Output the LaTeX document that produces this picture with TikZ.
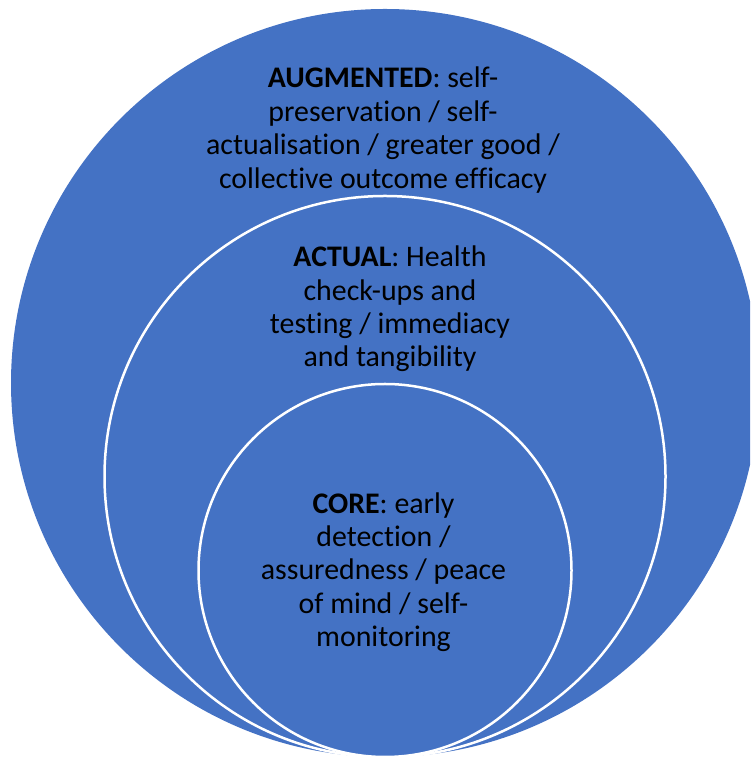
\documentclass[tikz,border=0pt]{standalone}
\usepackage{fontspec}
\setmainfont[Ligatures={NoCommon}]{Carlito}
\definecolor{ringblue}{HTML}{4472C4}
\tikzset{
  ring/.style={fill=ringblue,draw=white,line width=0.05cm},
  ringtext/.style={align=center,text=black,inner sep=0pt,
    font=\fontsize{17}{19}\selectfont}
}
\begin{document}
\begin{tikzpicture}
	   \useasboundingbox (0,0) rectangle (15,15.16);
	   \clip (0,0) rectangle (15,15.16);
	   % three rings, all touching at the bottom
	   \fill [fill=ringblue] (7.70,7.50) circle (7.48);
	   \draw [ring] (7.70,5.63) circle (5.61);
	   \draw [ring] (7.70,3.75) circle (3.73);
	   \node [ringtext] (augmented) at (7.66,12.56) {\textbf{AUGMENTED}: self-\\preservation / self-\\actualisation / greater good /\\collective outcome efficacy};
	   \node [ringtext] (actual) at (7.80,8.98) {\textbf{ACTUAL}: Health\\check-ups and\\testing / immediacy\\and tangibility};
	   \node [ringtext] (core) at (7.67,3.72) {\textbf{CORE}: early\\detection /\\assuredness / peace\\of mind / self-\\monitoring};
\end{tikzpicture}
\end{document}
